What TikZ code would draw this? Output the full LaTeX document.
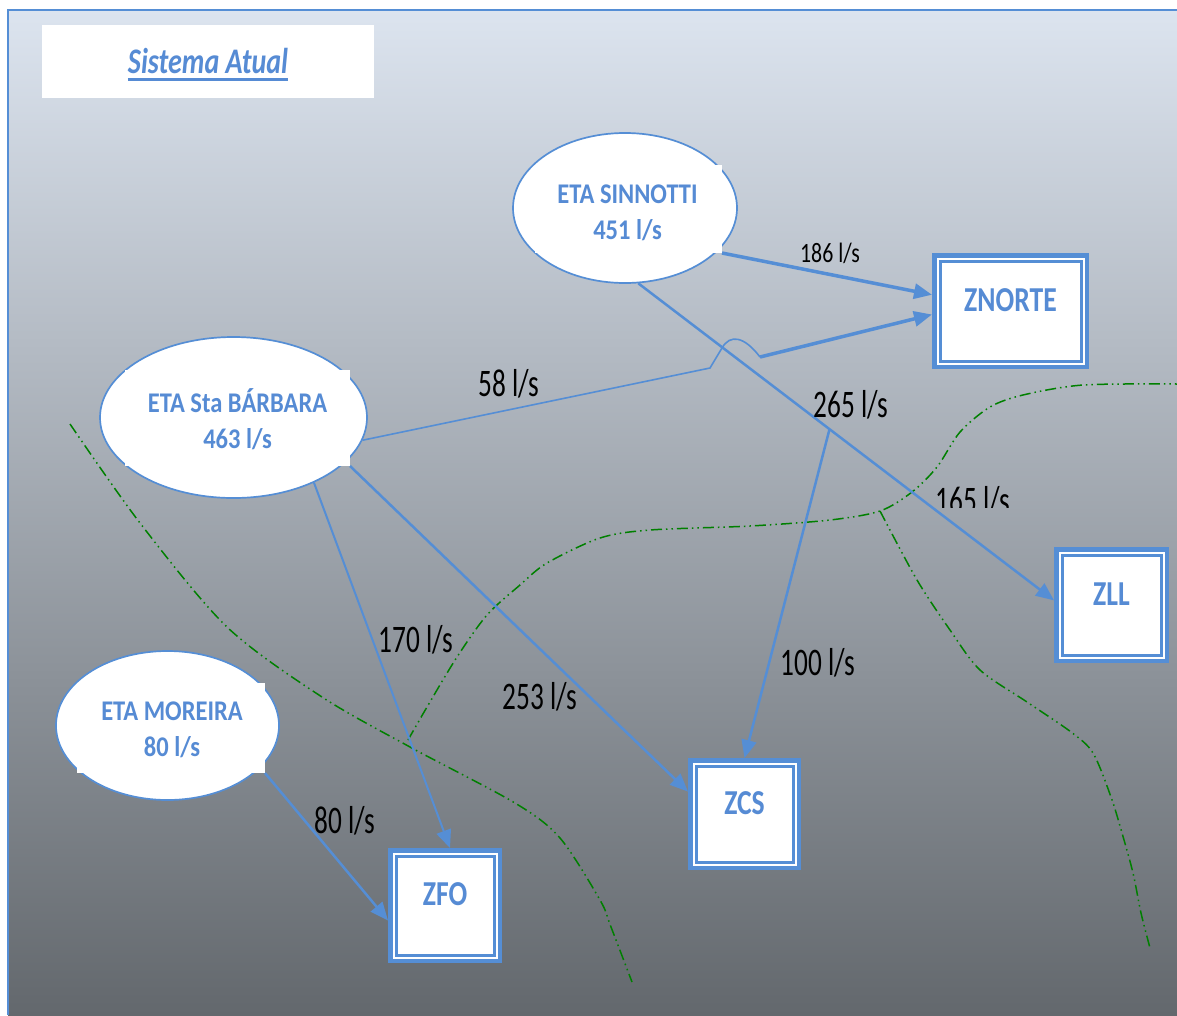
\documentclass[tikz,border=0pt]{standalone}
\usepackage{fontspec}
\usepackage{graphicx}
\setmainfont{Carlito}
\usetikzlibrary{shapes.geometric,arrows.meta,calc}
\definecolor{lblue}{RGB}{85,142,213}
\definecolor{tblue}{RGB}{86,139,212}
\definecolor{dgreen}{RGB}{0,128,0}
\definecolor{bgtop}{RGB}{220,228,239}
\definecolor{bgmid}{RGB}{172,178,187}
\definecolor{bgbot}{RGB}{99,104,109}
\newcommand{\nar}[2]{\scalebox{#1}[1]{#2}}
\begin{document}
\begin{tikzpicture}[x=1pt,y=-1pt,
  conn/.style={draw=lblue, line width=2.5pt},
  arr/.style={-{Triangle[length=18pt,width=15pt]}},
  eta/.style={ellipse, draw=lblue, line width=1.7pt, fill=white, inner sep=0, outer sep=0.85pt},
  notch/.style={rectangle, fill=white, draw=none, inner sep=0, outer sep=0},
  etatext/.style={text=tblue, font=\fontsize{28.5}{36}\selectfont\bfseries, align=center, inner sep=0, anchor=north},
  zbox/.style={rectangle, draw=lblue, line width=4.5pt, fill=white, inner sep=0, outer sep=2.25pt},
  zinner/.style={draw=lblue, line width=3pt},
  ztext/.style={text=tblue, font=\fontsize{35}{40}\selectfont\bfseries, inner sep=0, anchor=base},
  flow/.style={text=black, font=\fontsize{39}{44}\selectfont, inner sep=0, anchor=base},
  flowsm/.style={text=black, font=\fontsize{28}{32}\selectfont, inner sep=0, anchor=base},
  zone/.style={draw=dgreen, line width=1.5pt, dash pattern=on 11pt off 4pt on 1.5pt off 4pt on 1.5pt off 4pt}
]
\useasboundingbox (0,0) rectangle (1177,1015);
% background
\fill[white] (0,0) rectangle (1177,1015);
\shade[top color=bgtop, middle color=bgmid, bottom color=bgbot] (8,10) rectangle (1177,1015);
\draw[lblue, line width=1.5pt] (8,1015) -- (8,10) -- (1177,10);

% title
\node[rectangle, fill=white, minimum width=332pt, minimum height=73pt, inner sep=0] (tbox) at (208,61.5) {};
\node[text=tblue, font=\fontsize{36}{40}\selectfont\bfseries\itshape, inner sep=0, anchor=base] (title) at (208,73) {\nar{0.78}{Sistema Atual}};
\draw[tblue, line width=3pt] ($(title.base west)+(0,6.5)$) -- ($(title.base east)+(0,6.5)$);

% zone boundaries
\draw[zone] plot[smooth] coordinates {(70,424) (140,523) (227,627) (322,697) (410,747) (515,803) (560,838) (600,900) (611,927) (632,982)};
\draw[zone] plot[smooth] coordinates {(408,740) (427,707) (457,657) (487,615) (520,585) (547,563) (600,538) (650,530) (750,526) (830,520) (880,511) (912,492) (937,467) (960,432) (990,407) (1023,395) (1083,385) (1177,384)};
\draw[zone] plot[smooth] coordinates {(880,511) (917,580) (950,630) (980,670) (1027,702) (1071,732) (1093,753) (1111,797) (1122,833) (1133,873) (1141,913) (1150,948)};

% ETA ellipses
\node[eta, minimum width=224pt, minimum height=150pt] (sinn) at (625,208) {};
\node[notch, minimum width=187pt, minimum height=88pt] (snotch) at (628.5,209) {};
\node[eta, minimum width=267pt, minimum height=161pt] (barb) at (233.5,417.5) {};
\node[notch, minimum width=225pt, minimum height=96pt] (bnotch) at (237.5,418) {};
\node[eta, minimum width=223pt, minimum height=149pt] (more) at (167.5,725.5) {};
\node[notch, minimum width=188pt, minimum height=90pt] (mnotch) at (171,728) {};

% zone boxes
\node[zbox, minimum width=152.5pt, minimum height=111.5pt] (zn) at (1010.5,311) {};
\node[zbox, minimum width=110.5pt, minimum height=111.5pt] (zll) at (1111.5,605) {};
\node[zbox, minimum width=108.5pt, minimum height=107.5pt] (zcs) at (744.5,814) {};
\node[zbox, minimum width=109.5pt, minimum height=110.5pt] (zfo) at (445,905.5) {};
\foreach \b in {zn,zll,zcs,zfo}{
  \draw[zinner] ($(\b.north west)+(8,8)$) rectangle ($(\b.south east)+(-8,-8)$);
}

% connectors
\coordinate (zntop) at ($(zn.north west)!0.36!(zn.south west)$);
\coordinate (znbot) at ($(zn.north west)!0.53!(zn.south west)$);
\coordinate (zllin) at ($(zll.north west)!0.46!(zll.south west)$);
\coordinate (zcsin) at ($(zcs.north west)!0.3!(zcs.south west)$);
\coordinate (zfoin) at ($(zfo.north west)!0.63!(zfo.south west)$);
\coordinate (zfotop) at ($(zfo.north)+(5,0)$);
\coordinate (bump) at (760,357);

\draw[conn, line width=3.5pt, arr] (snotch.south east) -- (zntop);
\draw[conn, line width=1.6pt] (barb.-10) -- (710,368) -- (722,348) .. controls (730,334) and (744,336) .. (bump);
\draw[conn, line width=3.5pt, arr] (bump) -- (znbot);
\draw[conn, arr] (sinn.-80) -- (zllin) coordinate[pos=0.46] (junc);
\draw[conn, arr] (junc) -- (zcs.north);
\draw[conn, arr] (bnotch.south east) -- (zcsin);
\draw[conn, line width=2pt, arr] (barb.-39) -- (zfotop);
\draw[conn, arr] (mnotch.south east) -- (zfoin);

% ellipse texts
\node[etatext] (sinnt) at (627.5,185) {\nar{0.86}{ETA SINNOTTI}\\\nar{0.86}{451 l/s}};
\node[etatext] (barbt) at (237.5,388) {\nar{0.86}{ETA Sta BÁRBARA}\\\nar{0.86}{463 l/s}};
\node[etatext] (moret) at (172,702) {\nar{0.86}{ETA MOREIRA}\\\nar{0.86}{80 l/s}};

% box texts
\node[ztext] (znt) at (1010.5,311) {\nar{0.79}{ZNORTE}};
\node[ztext] (zllt) at (1111.5,605) {\nar{0.79}{ZLL}};
\node[ztext] (zcst) at (744.5,814) {\nar{0.79}{ZCS}};
\node[ztext] (zfot) at (445,905) {\nar{0.79}{ZFO}};

% flow labels
\node[flowsm] (l186) at (830,262) {\nar{0.78}{186 l/s}};
\node[flow] (l58) at (509,396) {\nar{0.7}{58 l/s}};
\node[flow] (l265) at (851,417) {\nar{0.7}{265 l/s}};
\node[flow] (l170) at (416,652) {\nar{0.7}{170 l/s}};
\node[flow] (l253) at (540,709) {\nar{0.7}{253 l/s}};
\node[flow] (l100) at (818,675) {\nar{0.7}{100 l/s}};
\node[flow] (l80) at (345,833) {\nar{0.7}{80 l/s}};
\begin{scope}
  \clip (900,470) rectangle (1060,507);
  \node[flow] (l165) at (973,513) {\nar{0.7}{165 l/s}};
\end{scope}
\end{tikzpicture}
\end{document}
